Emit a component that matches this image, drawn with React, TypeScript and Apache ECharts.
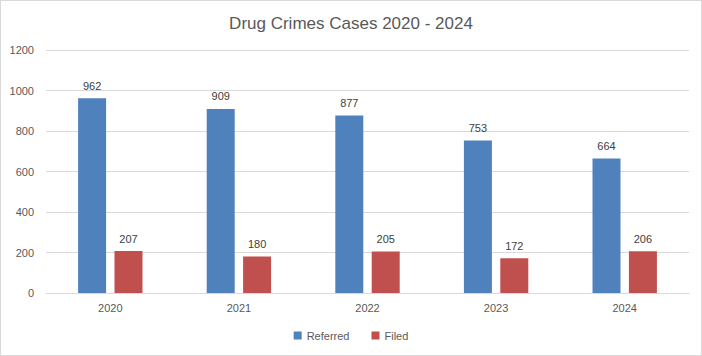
import React, { useEffect, useRef } from "react";
import * as echarts from "echarts";

const categories = ["2020", "2021", "2022", "2023", "2024"];
const referred = [962, 909, 877, 753, 664];
const filed = [207, 180, 205, 172, 206];

export default function App() {
  const ref = useRef<HTMLDivElement>(null);
  useEffect(() => {
    document.body.style.margin = "0";
    const chart = echarts.init(ref.current!, null, { renderer: "svg" });
    const font = "Liberation Sans";
    chart.setOption({
      animation: false,
      backgroundColor: "#ffffff",
      title: {
        text: "Drug Crimes Cases 2020 - 2024",
        left: "center",
        top: 9,
        textStyle: { fontFamily: font, fontSize: 17, fontWeight: "normal", color: "#595959" },
      },
      legend: {
        bottom: 9,
        left: "center",
        itemWidth: 8,
        itemHeight: 8,
        itemGap: 22,
        icon: "rect",
        textStyle: { fontFamily: font, fontSize: 11, color: "#595959" },
      },
      grid: { left: 45, right: 12, top: 49, bottom: 62 },
      xAxis: {
        type: "category",
        data: categories,
        axisLine: { lineStyle: { color: "#D9D9D9" } },
        axisTick: { show: false },
        axisLabel: { fontFamily: font, fontSize: 11, color: "#595959", margin: 9 },
      },
      yAxis: {
        type: "value",
        min: 0,
        max: 1200,
        interval: 200,
        axisLine: { show: false },
        axisTick: { show: false },
        splitLine: { lineStyle: { color: "#D9D9D9" } },
        axisLabel: {
          fontFamily: font,
          fontSize: 11,
          color: "#595959",
          margin: 12,
          formatter: (v: number) => String(v),
        },
      },
      series: [
        {
          name: "Referred",
          type: "bar",
          data: referred,
          barWidth: 28,
          barGap: "30%",
          itemStyle: { color: "#4F81BD" },
          label: { show: true, position: "top", distance: 7, fontFamily: font, fontSize: 11, color: "#404040" },
        },
        {
          name: "Filed",
          type: "bar",
          data: filed,
          barWidth: 28,
          itemStyle: { color: "#C0504D" },
          label: { show: true, position: "top", distance: 7, fontFamily: font, fontSize: 11, color: "#404040" },
        },
      ],
    });
    return () => chart.dispose();
  }, []);
  return (
    <div
      ref={ref}
      style={{ width: 702, height: 356, boxSizing: "border-box", border: "1px solid #D9D9D9" }}
    />
  );
}
